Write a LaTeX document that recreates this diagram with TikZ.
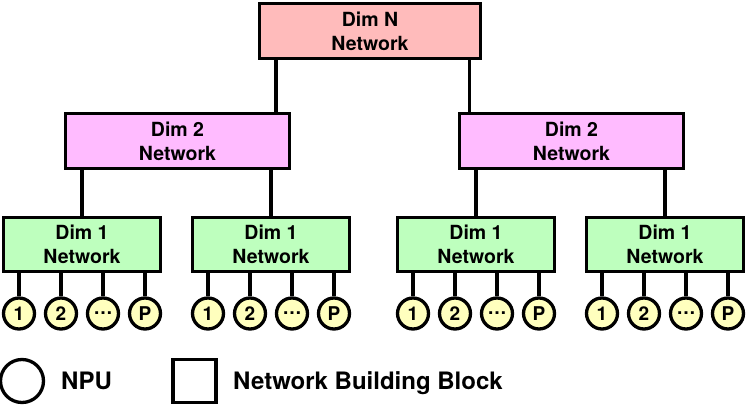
\documentclass[tikz,border=0pt]{standalone}
\usepackage{fontspec}
\setmainfont{TeX Gyre Heros}
\usetikzlibrary{positioning}

\definecolor{dimNfill}{RGB}{255,187,187}
\definecolor{dimtwofill}{RGB}{255,187,255}
\definecolor{dimonefill}{RGB}{190,255,190}
\definecolor{npufill}{RGB}{255,255,190}

\tikzset{
  netbox/.style={draw,line width=3.3pt,align=center,inner sep=0pt,
    minimum height=55pt,font=\bfseries\fontsize{19.5}{24}\selectfont},
  npu/.style={circle,draw,line width=3.3pt,inner sep=0pt,minimum size=31pt,
    fill=npufill,font=\bfseries\fontsize{19}{20}\selectfont},
  link/.style={line width=3.3pt},
  legtext/.style={inner sep=0pt,font=\bfseries\fontsize{24}{28}\selectfont}
}

\begin{document}
\begin{tikzpicture}[x=1pt,y=-1pt]
\useasboundingbox (0,0) rectangle (747,406);
% dim N
\node[netbox,fill=dimNfill,minimum width=221pt] (dimN) at (370,31) {Dim N\\Network};
% dim 2
\node[netbox,fill=dimtwofill,minimum width=224pt] (dimtwoL) at (177.5,141) {Dim 2\\Network};
\node[netbox,fill=dimtwofill,minimum width=224pt] (dimtwoR) at (571.5,141) {Dim 2\\Network};
\draw[link] ([xshift=18pt]dimN.south west) -- ([xshift=18pt]dimN.south west |- dimtwoL.north);
\draw[link] ([xshift=-13pt]dimN.south east) -- ([xshift=-13pt]dimN.south east |- dimtwoR.north);
% dim 1 and NPUs
\foreach \i/\xx/\up in {1/82/dimtwoL,2/271/dimtwoL,3/476/dimtwoR,4/665/dimtwoR}
{
  \node[netbox,fill=dimonefill,minimum width=157pt,minimum height=54pt] (dimone\i) at (\xx,244.5) {Dim 1\\Network};
  \draw[link] (dimone\i.north) -- (dimone\i.north |- \up.south);
  \foreach \j/\dx/\lab in {1/-63/1,2/-21/2,3/21/\textellipsis,4/63/P}
  {
    \node[npu] (npu\i\j) at (\xx+\dx,313.5) {\lab};
    \draw[link] (npu\i\j.north) -- (npu\i\j.north |- dimone\i.south);
  }
}
% legend
\node[circle,draw,line width=3.3pt,minimum size=43pt] (legnpu) at (22,381) {};
\node[legtext,anchor=base west] (legnputext) at (61,389) {NPU};
\node[draw,line width=3.3pt,minimum size=43pt] (legblock) at (194.5,381) {};
\node[legtext,anchor=base west] (legblocktext) at (233,389) {Network Building Block};
\end{tikzpicture}
\end{document}
